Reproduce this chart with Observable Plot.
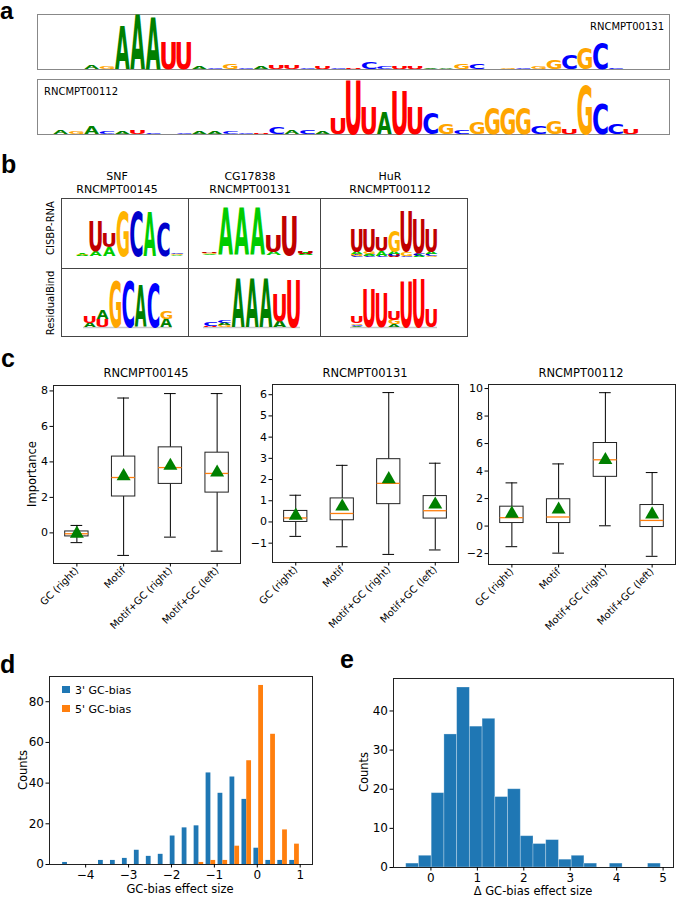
<!DOCTYPE html>
<html><head><meta charset="utf-8">
<script src="https://cdn.jsdelivr.net/npm/d3@7"></script>
<script src="https://cdn.jsdelivr.net/npm/@observablehq/plot@0.6"></script>
<style>
body{margin:0;background:#fff;}
#fig{position:relative;width:676px;height:899px;overflow:hidden;background:#fff;}
</style></head><body><div id="fig"></div><script>
// ================= DATA =================
// Panel a: sequence logos, [position, letter, height as fraction of the panel]
const logoRNCMPT00131 = [[3,"A",.07],[4,"G",.04],[5,"A",.8],[6,"A",1],[7,"A",.95],[8,"U",.5],[9,"U",.5],
 [10,"A",.04],[11,"C",.03],[12,"G",.1],[13,"C",.03],[14,"A",.04],[15,"U",.07],[16,"U",.07],[17,"C",.03],
 [18,"U",.04],[19,"C",.03],[20,"U",.03],[21,"C",.13],[22,"C",.04],[23,"U",.04],[24,"U",.04],[25,"A",.02],
 [26,"A",.03],[27,"G",.1],[28,"C",.1],[30,"G",.03],[31,"C",.03],[32,"G",.05],[33,"G",.18],[34,"C",.26],
 [35,"G",.38],[36,"C",.5],[37,"C",.02]];
const logoRNCMPT00112 = [[1,"A",.06],[2,"G",.05],[3,"A",.15],[4,"C",.04],[5,"A",.04],[6,"U",.08],[7,"C",.02],
 [9,"C",.03],[10,"A",.04],[11,"A",.04],[12,"C",.04],[13,"C",.03],[14,"U",.02],[15,"C",.11],[16,"A",.07],
 [17,"C",.06],[18,"A",.04],[19,"U",.29],[20,"U",1],[21,"U",.5],[22,"A",.41],[23,"U",.8],[24,"U",.5],
 [25,"C",.4],[26,"G",.2],[27,"C",.08],[28,"G",.22],[29,"G",.5],[30,"G",.5],[31,"G",.5],[32,"C",.15],
 [33,"G",.25],[34,"U",.1],[35,"G",.9],[36,"C",.56],[37,"C",.2],[38,"U",.1]];
const logoLength = 41;

// Panel b: motif logos (stacked bottom -> top)
const proteins = ["SNF", "CG17838", "HuR"];
const proteinIds = ["RNCMPT00145", "RNCMPT00131", "RNCMPT00112"];
const methods = ["CISBP-RNA", "ResidualBind"];
const cisbpSNF = [[0,"A",.04],[0,"G",.02],[1,"A",.12],[1,"U",.66],[2,"A",.2],[2,"U",.32],[3,"G",1],[4,"C",1],
 [5,"A",.96],[6,"C",.72],[7,"A",.03],[7,"G",.02],[7,"C",.02]];
const cisbpCG17838 = [[0,"A",.03],[0,"G",.03],[0,"U",.02],[1,"A",1],[2,"A",1],[3,"A",1],[4,"A",.08],[4,"U",.38],
 [5,"U",.85],[6,"A",.04],[6,"U",.06]];
const cisbpHuR = [[0,"C",.04],[0,"G",.04],[0,"A",.04],[0,"U",.5],[1,"C",.04],[1,"A",.04],[1,"G",.04],[1,"U",.5],
 [2,"C",.04],[2,"A",.1],[2,"U",.3],[3,"U",.04],[3,"C",.04],[3,"A",.04],[3,"G",.45],[4,"C",.03],[4,"G",.09],
 [4,"U",.88],[5,"A",.04],[5,"C",.04],[5,"U",.75],[6,"G",.03],[6,"C",.04],[6,"A",.05],[6,"U",.5]];
const rbSNF = [[0,"A",.1],[0,"U",.15],[1,"U",.18],[1,"A",.18],[2,"G",1],[3,"C",1],[4,"A",.89],[5,"C",.96],
 [6,"A",.18],[6,"G",.18]];
const rbCG17838 = [[0,"U",.02],[0,"C",.08],[1,"G",.05],[1,"A",.05],[1,"C",.05],[2,"A",1],[3,"A",1],[4,"A",1],
 [5,"A",.12],[5,"U",.57],[6,"U",.97]];
const rbHuR = [[0,"A",.03],[0,"C",.03],[0,"G",.03],[0,"U",.12],[1,"U",.79],[2,"U",.72],[3,"A",.06],[3,"G",.1],
 [3,"U",.18],[4,"U",.96],[5,"U",1],[6,"U",.38]];

// Panel c: box-plot summaries (whisker low, Q1, median, Q3, whisker high, mean)
const boxCategories = ["GC (right)", "Motif", "Motif+GC (right)", "Motif+GC (left)"];
const lo145 = [-0.55, -1.27, -0.24, -1.03], q1_145 = [-0.2, 2.05, 2.76, 2.27], med145 = [-0.05, 3.12, 3.68, 3.35],
      q3_145 = [0.08, 4.3, 4.82, 4.52], hi145 = [0.42, 7.6, 7.85, 7.85], mean145 = [-0.04, 3.2, 3.78, 3.4];
const lo131 = [-0.68, -1.17, -1.53, -1.32], q1_131 = [0.0, 0.08, 0.84, 0.16], med131 = [0.19, 0.4, 1.82, 0.53],
      q3_131 = [0.52, 1.11, 2.96, 1.22], hi131 = [1.26, 2.67, 6.1, 2.77], mean131 = [0.3, 0.73, 2.02, 0.82];
const lo112 = [-1.5, -1.97, 0.02, -2.2], q1_112 = [0.22, 0.22, 3.58, -0.07], med112 = [0.61, 0.66, 4.82, 0.41],
      q3_112 = [1.41, 1.95, 6.04, 1.53], hi112 = [3.14, 4.52, 9.7, 3.89], mean112 = [0.9, 1.2, 4.8, 0.85];
const yTicks145 = [0, 2, 4, 6, 8], yTicks131 = [-1, 0, 1, 2, 3, 4, 5, 6], yTicks112 = [-2, 0, 2, 4, 6, 8, 10];

// Panel d: histogram of GC-bias effect sizes
const dBinStart = -4.564, dBinWidth = 0.2786;
const dCounts3 = [1,0,0,2,2,3,7,4,5,14,18,19,45,35,43,32,8,2,2,2];
const dCounts5 = [0,0,0,0,0,0,0,0,0,0,0,1,2,2,9,51,88,64,17,10];
const dSeries = ["3' GC-bias", "5' GC-bias"];
const dXTicks = [-4,-3,-2,-1,0,1], dYTicks = [0,20,40,60,80];

// Panel e: histogram of delta GC-bias effect size
const eBinStart = -0.532, eBinWidth = 0.2741;
const eCounts = [1,3,19,34,46,36,38,18,20,8,6,7,2,3,1,0,1,0,0,1];
const eXTicks = [0,1,2,3,4,5], eYTicks = [0,10,20,30,40];

// ================= STYLE =================
const FONT = "DejaVu Sans";
const colorsClassic = {A:"#008000", C:"#0000ff", G:"#ffa500", U:"#ff0000"};
const colorsCisbp = {A:"#00cc00", C:"#0000cc", G:"#ffb300", U:"#c00000"};
const blue = "#1f77b4", orange = "#ff7f0e";
const fmt = d => (d < 0 ? "\u2212" : "") + Math.abs(d);

const fig = document.getElementById("fig");

function makePlot(frame, m, opts) {
  const [x0, y0, x1, y1] = frame;
  const chart = Plot.plot({
    ...opts,
    width: x1 - x0 + m.l + m.r, height: y1 - y0 + m.t + m.b,
    marginLeft: m.l, marginRight: m.r, marginTop: m.t, marginBottom: m.b,
    style: {background: "transparent", overflow: "visible", fontFamily: FONT, fontSize: "11px", color: "#000"}
  });
  chart.style.position = "absolute";
  chart.style.left = (x0 - m.l) + "px";
  chart.style.top = (y0 - m.t) + "px";
  chart.style.maxWidth = "none";
  fig.appendChild(chart);
  return chart;
}

// glyph metrics for stretching letters into logo cells
const ctx = document.createElement("canvas").getContext("2d");
ctx.font = `bold 100px "${FONT}"`;
const gmCache = {};
function gm(ch) {
  if (!gmCache[ch]) {
    const m = ctx.measureText(ch);
    gmCache[ch] = {L: m.actualBoundingBoxLeft, R: m.actualBoundingBoxRight, A: m.actualBoundingBoxAscent, D: m.actualBoundingBoxDescent};
  }
  return gmCache[ch];
}

function drawLogo(entries, n, colors, frame, m, extra = [], widthFrac = 0.92) {
  const stacked = []; const acc = new Map();
  for (const [p, l, h] of entries) {
    const b = acc.get(p) || 0;
    stacked.push({p, l, y0: b, y1: b + h});
    acc.set(p, b + h);
  }
  const chart = makePlot(frame, m, {
    x: {domain: [-0.5, n - 0.5], axis: null},
    y: {domain: [0, 1], axis: null},
    color: {type: "identity"},
    marks: [
      ...extra,
      Plot.text(stacked, {x: "p", y: "y0", text: "l", fill: d => colors[d.l], fontSize: 100, fontWeight: "bold", fontFamily: FONT})
    ]
  });
  const sx = chart.scale("x"), sy = chart.scale("y");
  const X = d3.scaleLinear(sx.domain, sx.range), Y = d3.scaleLinear(sy.domain, sy.range);
  const texts = chart.querySelectorAll('g[aria-label="text"] text');
  texts.forEach((t, i) => {
    const d = stacked[i]; const g = gm(d.l);
    const xa = X(d.p - widthFrac / 2), xb = X(d.p + widthFrac / 2);
    const yt = Y(d.y1), yb = Y(d.y0);
    const kx = (xb - xa) / (g.L + g.R), ky = (yb - yt) / (g.A + g.D);
    t.removeAttribute("dy");
    t.setAttribute("x", 0); t.setAttribute("y", 0);
    t.setAttribute("text-anchor", "start");
    t.setAttribute("font-size", 100);
    t.setAttribute("font-weight", "bold");
    t.setAttribute("font-family", FONT);
    t.setAttribute("transform", `translate(${xa},${yt}) scale(${kx},${ky}) translate(${g.L},${g.A})`);
  });
  return chart;
}

// ---------- Panel a ----------
drawLogo(logoRNCMPT00131, logoLength, colorsClassic, [37, 14, 669, 69], {l:1, r:1, t:1, b:1}, [Plot.frame({stroke: "#888"})], 0.95);
drawLogo(logoRNCMPT00112, logoLength, colorsClassic, [37, 79, 669, 134], {l:1, r:1, t:1, b:1}, [Plot.frame({stroke: "#888"})], 0.95);

// ---------- Panel b ----------
drawLogo(cisbpSNF, 8, colorsCisbp, [75, 210, 183, 256], {l:0, r:0, t:0, b:0});
drawLogo(cisbpCG17838, 7, colorsCisbp, [201, 208, 313, 255], {l:0, r:0, t:0, b:0});
drawLogo(cisbpHuR, 7, colorsCisbp, [350, 210, 437, 257], {l:0, r:0, t:0, b:0});
const baseRule = [Plot.ruleY([0], {stroke: "#c8c8c8", strokeWidth: 1.5})];
drawLogo(rbSNF, 7, colorsClassic, [83, 280, 172, 327], {l:0, r:0, t:0, b:0}, baseRule);
drawLogo(rbCG17838, 7, colorsClassic, [203, 278, 300, 327], {l:0, r:0, t:0, b:0}, baseRule);
drawLogo(rbHuR, 7, colorsClassic, [350, 278, 437, 327], {l:0, r:0, t:0, b:0}, baseRule);

// ---------- Panel c ----------
function boxPanel(frame, lo, q1, med, q3, hi, mean, yTicks) {
  const rows = boxCategories.map((c, i) => ({i: i + 1, c, lo: lo[i], q1: q1[i], med: med[i], q3: q3[i], hi: hi[i], mean: mean[i]}));
  const mn = d3.min(lo), mx = d3.max(hi), pad = (mx - mn) * 0.05;
  return makePlot(frame, {l: 30, r: 2, t: 2, b: 70}, {
    x: {domain: [0.5, 4.5]},
    y: {domain: [mn - pad, mx + pad]},
    marks: [
      Plot.ruleX(rows, {x: "i", y1: "lo", y2: "q1", stroke: "#000", strokeWidth: 1}),
      Plot.ruleX(rows, {x: "i", y1: "q3", y2: "hi", stroke: "#000", strokeWidth: 1}),
      Plot.ruleY(rows, {y: "lo", x1: d => d.i - 0.125, x2: d => d.i + 0.125, stroke: "#000"}),
      Plot.ruleY(rows, {y: "hi", x1: d => d.i - 0.125, x2: d => d.i + 0.125, stroke: "#000"}),
      Plot.rect(rows, {x1: d => d.i - 0.25, x2: d => d.i + 0.25, y1: "q1", y2: "q3", fill: "white", stroke: "#222", strokeWidth: 1}),
      Plot.ruleY(rows, {y: "med", x1: d => d.i - 0.25, x2: d => d.i + 0.25, stroke: orange, strokeWidth: 1.3}),
      Plot.dot(rows, {x: "i", y: "mean", symbol: "triangle", fill: "#008000", stroke: "none", r: 5.2}),
      Plot.frame({stroke: "#222"}),
      Plot.axisY({ticks: yTicks, tickFormat: fmt, tickSize: 3.5, tickPadding: 2, fontSize: 11, label: null}),
      Plot.axisX({ticks: [1, 2, 3, 4], tickFormat: d => boxCategories[d - 1], tickRotate: -45, tickSize: 3.5, tickPadding: 2, fontSize: 10, label: null})
    ]
  });
}
boxPanel([53, 385, 240, 563], lo145, q1_145, med145, q3_145, hi145, mean145, yTicks145);
boxPanel([272, 384, 458, 562], lo131, q1_131, med131, q3_131, hi131, mean131, yTicks131);
boxPanel([488, 384, 675, 564], lo112, q1_112, med112, q3_112, hi112, mean112, yTicks112);

// ---------- Panel d ----------
{
  const bins = dCounts3.map((c, i) => ({a: dBinStart + i * dBinWidth, c3: c, c5: dCounts5[i]}));
  const xmin = dBinStart, xmax = dBinStart + dCounts3.length * dBinWidth, xpad = (xmax - xmin) * 0.05;
  const ymax = Math.max(d3.max(dCounts3), d3.max(dCounts5)) * 1.05;
  makePlot([49, 676, 312, 864], {l: 30, r: 2, t: 2, b: 30}, {
    x: {domain: [xmin - xpad, xmax + xpad]},
    y: {domain: [0, ymax]},
    marks: [
      Plot.rect(bins.filter(d => d.c3 > 0), {x1: d => d.a + 0.1 * dBinWidth, x2: d => d.a + 0.5 * dBinWidth, y1: 0, y2: "c3", fill: blue}),
      Plot.rect(bins.filter(d => d.c5 > 0), {x1: d => d.a + 0.5 * dBinWidth, x2: d => d.a + 0.9 * dBinWidth, y1: 0, y2: "c5", fill: orange}),
      Plot.frame({stroke: "#222"}),
      Plot.axisY({ticks: dYTicks, tickFormat: fmt, tickSize: 3.5, tickPadding: 2, fontSize: 12, label: null}),
      Plot.axisX({ticks: dXTicks, tickFormat: fmt, tickSize: 3.5, tickPadding: 2, fontSize: 12, label: null})
    ]
  });
}

// ---------- Panel e ----------
{
  const bins = eCounts.map((c, i) => ({a: eBinStart + i * eBinWidth, c}));
  const xmin = eBinStart, xmax = eBinStart + eCounts.length * eBinWidth, xpad = (xmax - xmin) * 0.05;
  makePlot([393, 678, 673, 867], {l: 30, r: 2, t: 2, b: 30}, {
    x: {domain: [xmin - xpad, xmax + xpad]},
    y: {domain: [0, d3.max(eCounts) * 1.05]},
    marks: [
      Plot.rect(bins.filter(d => d.c > 0), {x1: "a", x2: d => d.a + eBinWidth, y1: 0, y2: "c", fill: blue, stroke: "#ffffff", strokeOpacity: 0.35, strokeWidth: 0.8}),
      Plot.frame({stroke: "#222"}),
      Plot.axisY({ticks: eYTicks, tickFormat: fmt, tickSize: 3.5, tickPadding: 2, fontSize: 12, label: null}),
      Plot.axisX({ticks: eXTicks, tickFormat: fmt, tickSize: 3.5, tickPadding: 2, fontSize: 12, label: null})
    ]
  });
}

// ================= TEXT / DECORATION OVERLAY =================
const ov = d3.select(fig).append("svg").attr("width", 676).attr("height", 899)
  .style("position", "absolute").style("left", 0).style("top", 0).style("font-family", FONT);
function txt(s, x, y, o = {}) {
  ov.append("text").attr("transform", `translate(${x},${y})${o.rotate ? ` rotate(${o.rotate})` : ""}`)
    .attr("font-size", o.size || 11).attr("text-anchor", o.anchor || "start")
    .attr("font-weight", o.weight || "normal").attr("font-family", o.family || FONT)
    .attr("fill", o.fill || "#000").text(s);
}
const panelFont = "Liberation Sans";
txt("a", 0, 19, {size: 24, weight: "bold", family: panelFont});
txt("b", 1, 173, {size: 25, weight: "bold", family: panelFont});
txt("c", 1, 367, {size: 25, weight: "bold", family: panelFont});
txt("d", 0, 673, {size: 25, weight: "bold", family: panelFont});
txt("e", 340, 668, {size: 25, weight: "bold", family: panelFont});

// panel a labels
txt(proteinIds[1], 664, 30, {size: 10, anchor: "end"});
txt(proteinIds[2], 44, 95, {size: 10});

// panel b headers, grid, row labels
const colX = [61, 188, 320, 467], rowY = [198, 268, 336];
const headerX = [117, 250, 390];
proteins.forEach((p, i) => {
  txt(p, headerX[i], 180, {size: 11, anchor: "middle"});
  txt(proteinIds[i], headerX[i], 193, {size: 11, anchor: "middle"});
});
for (let r = 0; r < 2; r++) for (let c = 0; c < 3; c++) {
  ov.append("rect").attr("x", colX[c] + 0.5).attr("y", rowY[r] + 0.5)
    .attr("width", colX[c + 1] - colX[c]).attr("height", rowY[r + 1] - rowY[r])
    .attr("fill", "none").attr("stroke", "#444").attr("stroke-width", 1);
}
txt(methods[0], 54, 228, {size: 10, anchor: "middle", rotate: -90});
txt(methods[1], 54, 303, {size: 10, anchor: "middle", rotate: -90});

// panel c titles & label
txt(proteinIds[0], 146, 377, {size: 11.5, anchor: "middle"});
txt(proteinIds[1], 365, 377, {size: 11.5, anchor: "middle"});
txt(proteinIds[2], 581, 377, {size: 11.5, anchor: "middle"});
txt("Importance", 36, 474, {size: 11.5, anchor: "middle", rotate: -90});

// panel d labels & legend
txt("GC-bias effect size", 180, 893, {size: 11.5, anchor: "middle"});
txt("Counts", 27, 770, {size: 11.5, anchor: "middle", rotate: -90});
ov.append("rect").attr("x", 62).attr("y", 686).attr("width", 8).attr("height", 7).attr("fill", blue);
ov.append("rect").attr("x", 62).attr("y", 705).attr("width", 8).attr("height", 7).attr("fill", orange);
txt(dSeries[0], 75, 694, {size: 11});
txt(dSeries[1], 75, 713, {size: 11});

// panel e labels
txt("\u0394 GC-bias effect size", 533, 895, {size: 11.5, anchor: "middle"});
txt("Counts", 368, 772, {size: 11.5, anchor: "middle", rotate: -90});
</script></body></html>
